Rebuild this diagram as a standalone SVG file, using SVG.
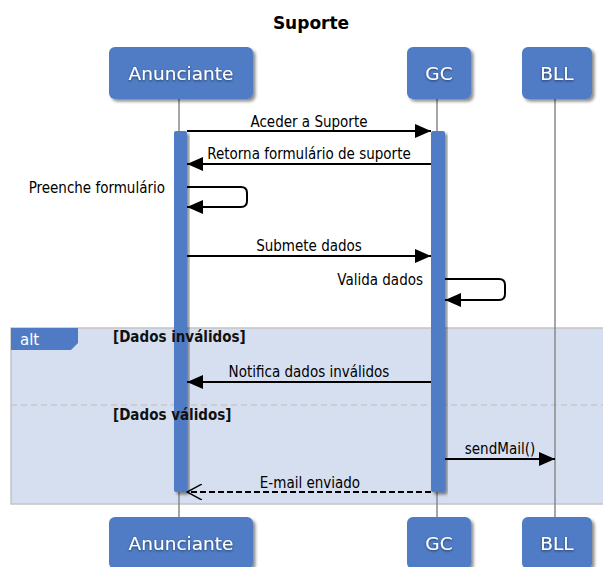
<svg xmlns="http://www.w3.org/2000/svg" width="603" height="567" viewBox="0 0 603 567">
  <defs>
    <filter id="shadow" x="-20%" y="-20%" width="140%" height="150%">
      <feDropShadow dx="2.5" dy="2.5" stdDeviation="1.5" flood-color="#000" flood-opacity="0.45"/>
    </filter>
    <filter id="txtShadow" x="-10%" y="-30%" width="120%" height="160%">
      <feDropShadow dx="0" dy="1" stdDeviation="1" flood-color="#1a2a50" flood-opacity="0.8"/>
    </filter>
    <marker id="solid" viewBox="0 0 16 14" refX="16" refY="7" markerWidth="16" markerHeight="14" markerUnits="userSpaceOnUse" orient="auto">
      <path d="M0,0 L16,7 L0,14 Z" fill="#000"/>
    </marker>
    <marker id="open" viewBox="0 0 16 16" refX="15" refY="8" markerWidth="16" markerHeight="16" markerUnits="userSpaceOnUse" orient="auto">
      <path d="M0,0 L15,8 L0,16" fill="none" stroke="#000" stroke-width="1.5"/>
    </marker>
  </defs>
  <style>
    .box { fill: #4f7bc4; filter: url(#shadow); }
    .boxlabel { font-family: "DejaVu Sans", sans-serif; font-size: 18.5px; fill: #fff; text-anchor: middle; filter: url(#txtShadow); }
    .life { stroke: #8a8a8a; stroke-width: 1.5; fill: none; }
    .act { fill: #4f7bc4; filter: url(#shadow); }
    .msg { stroke: #000; stroke-width: 2; fill: none; }
    .ret { stroke: #000; stroke-width: 2; fill: none; stroke-dasharray: 6 3; }
    .lbl { font-family: "DejaVu Sans Condensed", "DejaVu Sans", sans-serif; font-size: 15px; fill: #000; }
    .mid { text-anchor: middle; }
    .end { text-anchor: end; }
    .guard { font-family: "DejaVu Sans Condensed", "DejaVu Sans", sans-serif; font-size: 15px; font-weight: bold; fill: #111; }
    .title { font-family: "DejaVu Sans", sans-serif; font-size: 17px; font-weight: bold; fill: #000; text-anchor: middle; }
  </style>

  <text class="title" x="311" y="29">Suporte</text>

  <!-- alt combined fragment -->
  <g id="frame-alt">
    <rect x="11" y="328" width="600" height="176" fill="#d6dff0" stroke="#c4c4c4" stroke-width="1.5"/>
    <path d="M11,328 H78 V343 L71,350 H11 Z" fill="#4f7bc4"/>
    <text x="20" y="345" font-family="DejaVu Sans, sans-serif" font-size="15" fill="#fff">alt</text>
    <line x1="11" y1="405" x2="603" y2="405" stroke="#c8c8c8" stroke-width="1.5" stroke-dasharray="6 4"/>
  </g>

  <!-- lifelines -->
  <g id="lifelines">
    <line class="life" x1="179" y1="99" x2="179" y2="517"/>
    <line class="life" x1="437" y1="99" x2="437" y2="517"/>
    <line class="life" x1="555" y1="99" x2="555" y2="517"/>
  </g>

  <!-- participants, top and bottom -->
  <g id="anunciante">
    <rect class="box" x="109" y="47" width="144" height="52" rx="6"/>
    <text class="boxlabel" x="181" y="80">Anunciante</text>
    <rect class="box" x="109" y="517" width="144" height="52" rx="6"/>
    <text class="boxlabel" x="181" y="550">Anunciante</text>
  </g>
  <g id="gc">
    <rect class="box" x="407" y="47" width="64" height="52" rx="6"/>
    <text class="boxlabel" x="439" y="80">GC</text>
    <rect class="box" x="407" y="517" width="64" height="52" rx="6"/>
    <text class="boxlabel" x="439" y="550">GC</text>
  </g>
  <g id="bll">
    <rect class="box" x="522" y="47" width="70" height="52" rx="6"/>
    <text class="boxlabel" x="557" y="80">BLL</text>
    <rect class="box" x="522" y="517" width="70" height="52" rx="6"/>
    <text class="boxlabel" x="557" y="550">BLL</text>
  </g>

  <!-- activation bars -->
  <g id="activations">
    <rect class="act" x="174" y="131" width="13" height="361" rx="2"/>
    <rect class="act" x="431" y="131" width="14" height="361" rx="2"/>
  </g>

  <!-- operand guards, written over the activation bar -->
  <g id="guards">
    <text class="guard" x="113" y="342">[Dados inválidos]</text>
    <text class="guard" x="113" y="420">[Dados válidos]</text>
  </g>

  <!-- messages -->
  <g id="connectors">
    <line class="msg" x1="187" y1="131" x2="431" y2="131" marker-end="url(#solid)"/>
    <text class="lbl mid" x="309" y="127">Aceder a Suporte</text>

    <line class="msg" x1="431" y1="164" x2="187" y2="164" marker-end="url(#solid)"/>
    <text class="lbl mid" x="309" y="159">Retorna formulário de suporte</text>

    <path class="msg" d="M187,187 H241 Q247,187 247,193 V201 Q247,207 241,207 H187" marker-end="url(#solid)"/>
    <text class="lbl end" x="165" y="193">Preenche formulário</text>

    <line class="msg" x1="187" y1="256" x2="431" y2="256" marker-end="url(#solid)"/>
    <text class="lbl mid" x="309" y="251">Submete dados</text>

    <path class="msg" d="M445,279 H499 Q505,279 505,285 V294 Q505,300 499,300 H445" marker-end="url(#solid)"/>
    <text class="lbl end" x="423" y="285">Valida dados</text>

    <line class="msg" x1="431" y1="382" x2="187" y2="382" marker-end="url(#solid)"/>
    <text class="lbl mid" x="309" y="377">Notifica dados inválidos</text>

    <line class="msg" x1="445" y1="459" x2="555" y2="459" marker-end="url(#solid)"/>
    <text class="lbl mid" x="500" y="454">sendMail()</text>

    <line class="ret" x1="431" y1="492" x2="187" y2="492" marker-end="url(#open)"/>
    <text class="lbl mid" x="310" y="488">E-mail enviado</text>
  </g>
</svg>
